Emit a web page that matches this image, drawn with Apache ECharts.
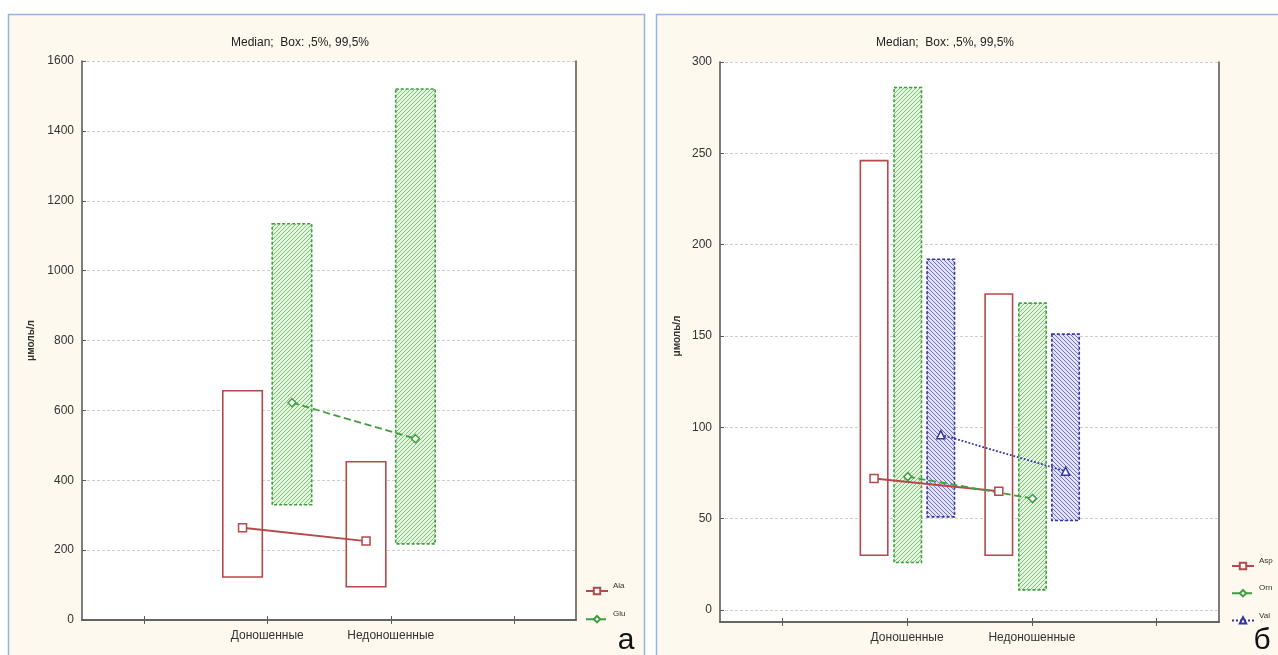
<!DOCTYPE html>
<html>
<head>
<meta charset="utf-8">
<script src="https://cdn.jsdelivr.net/npm/echarts@6/dist/echarts.min.js"></script>
<style>
  html, body { margin: 0; padding: 0; background: #ffffff; }
  #chart { width: 1278px; height: 655px; }
</style>
</head>
<body>
<div id="chart"></div>
<script>
// ---- data ----
const groups = ['Доношенные', 'Недоношенные'];
const axisSlots = ['', 'Доношенные', 'Недоношенные', ''];
const titleText = 'Median;  Box: ,5%, 99,5%';
const unitLabel = 'μмоль/л';

// panel а (0.5% / 99.5% box, median point)
const alaLow = [123, 95];
const alaHigh = [656, 453];
const alaMedian = [264, 226];
const gluLow = [330, 218];
const gluHigh = [1134, 1520];
const gluMedian = [622, 519];
const yTicksA = [0, 200, 400, 600, 800, 1000, 1200, 1400, 1600];

// panel б
const aspLow = [30, 30];
const aspHigh = [246, 173];
const aspMedian = [72, 65];
const ornLow = [26, 11];
const ornHigh = [286, 168];
const ornMedian = [73, 61];
const valLow = [51, 49];
const valHigh = [192, 151];
const valMedian = [96, 76];
const yTicksB = [0, 50, 100, 150, 200, 250, 300];

// ---- styles ----
const FONT = 'Liberation Sans, Arial, sans-serif';
const RED = '#b5484b';
const GREEN = '#3f9f3f';
const BLUE = '#3636a2';
const FRAME = '#5c5c5c';

function hatch(bg, fg, dir) {
  const c = document.createElement('canvas');
  c.width = 4; c.height = 4;
  const g = c.getContext('2d');
  g.fillStyle = bg; g.fillRect(0, 0, 4, 4);
  g.strokeStyle = fg; g.lineWidth = 0.9;
  g.beginPath();
  if (dir > 0) {
    g.moveTo(0, 4); g.lineTo(4, 0);
    g.moveTo(-1, 1); g.lineTo(1, -1);
    g.moveTo(3, 5); g.lineTo(5, 3);
  } else {
    g.moveTo(0, 0); g.lineTo(4, 4);
    g.moveTo(3, -1); g.lineTo(5, 1);
    g.moveTo(-1, 3); g.lineTo(1, 5);
  }
  g.stroke();
  return c;
}
const greenHatch = { image: hatch('#e6f4e2', '#6fbd66', 1), repeat: 'repeat' };
const blueHatch = { image: hatch('#e2e2f4', '#6464c0', -1), repeat: 'repeat' };

// ---- series builders ----
// x positions live on a hidden value axis spanning the 4 slots [0, 4];
// group i sits at the centre of slot i + 1.
function boxSeries(low, high, offset, width, style, xi, yi) {
  return {
    type: 'custom', xAxisIndex: xi, yAxisIndex: yi, z: 2, silent: true,
    data: groups.map((g, i) => [i + 1.5 + offset, low[i], high[i]]),
    encode: { x: 0, y: [1, 2] },
    renderItem: (params, api) => {
      const top = api.coord([api.value(0), api.value(2)]);
      const bot = api.coord([api.value(0), api.value(1)]);
      const w = api.size([width, 0])[0];
      return {
        type: 'rect',
        shape: { x: top[0] - w / 2, y: top[1], width: w, height: bot[1] - top[1] },
        style: style
      };
    }
  };
}

function medianSeries(name, med, offset, color, lineType, symbol, size, xi, yi) {
  return {
    type: 'line', name: name, xAxisIndex: xi, yAxisIndex: yi, z: 5, silent: true,
    data: groups.map((g, i) => [i + 1.5 + offset, med[i]]),
    symbol: symbol, symbolSize: size, showAllSymbol: true,
    lineStyle: { color: color, width: 1.8, type: lineType },
    itemStyle: { color: '#ffffff', borderColor: color, borderWidth: 1.5 },
    animation: false
  };
}

const redBox = { fill: '#ffffff', stroke: RED, lineWidth: 1.6 };
const greenBox = { fill: greenHatch, stroke: GREEN, lineWidth: 1.6, lineDash: [3, 2] };
const blueBox = { fill: blueHatch, stroke: BLUE, lineWidth: 1.6, lineDash: [3, 2] };

// ---- axes helpers ----
const frameLine = { show: true, lineStyle: { color: FRAME, width: 1.6 } };
const gridSplit = { show: true, lineStyle: { color: '#cfcfcf', width: 1, type: [3, 2] } };
const plainNumber = v => String(v);

function catAxis(gridIndex, position, labels) {
  return {
    type: 'category', gridIndex: gridIndex, position: position, data: axisSlots,
    boundaryGap: true,
    axisLine: frameLine,
    axisTick: { show: true, inside: true, alignWithLabel: true, length: 4, lineStyle: { color: FRAME } },
    axisLabel: labels ? { show: true, color: '#333', fontSize: 12, fontFamily: FONT, margin: 10, interval: 0 } : { show: false },
    splitLine: { show: false }
  };
}
function hiddenValueX(gridIndex) {
  return { type: 'value', gridIndex: gridIndex, min: 0, max: 4, show: false };
}
function lineOnlyY(gridIndex, position, min, max) {
  return {
    type: 'value', gridIndex: gridIndex, position: position, min: min, max: max,
    axisLine: frameLine, axisTick: { show: false }, axisLabel: { show: false }, splitLine: { show: false }
  };
}

// legend names sit a little above their line-and-marker keys
const legendText = {
  fontSize: 8, color: '#333', fontFamily: FONT,
  rich: { t: { fontSize: 8, color: '#333', fontFamily: FONT, padding: [0, 0, 10, 0] } }
};
const legendFormat = '{t|{name}}';

const option = {
  animation: false,
  backgroundColor: '#ffffff',
  textStyle: { fontFamily: FONT },
  graphic: [
    { type: 'rect', z: -10, shape: { x: 8.5, y: 14.5, width: 636, height: 660 },
      style: { fill: '#fdf9ee', stroke: '#95b5de', lineWidth: 1.5 } },
    { type: 'rect', z: -10, shape: { x: 656.5, y: 14.5, width: 640, height: 660 },
      style: { fill: '#fdf9ee', stroke: '#95b5de', lineWidth: 1.5 } },
    { type: 'text', z: 10, x: 626, y: 641,
      style: { text: 'а', font: '30px ' + FONT, fill: '#111', align: 'center', verticalAlign: 'middle' } },
    { type: 'text', z: 10, x: 1262, y: 641,
      style: { text: 'б', font: '30px ' + FONT, fill: '#111', align: 'center', verticalAlign: 'middle' } }
  ],
  title: [
    { text: titleText, left: 295, top: 32, textAlign: 'center',
      textStyle: { fontSize: 12, fontWeight: 'normal', color: '#222', fontFamily: FONT } },
    { text: titleText, left: 940, top: 32, textAlign: 'center',
      textStyle: { fontSize: 12, fontWeight: 'normal', color: '#222', fontFamily: FONT } }
  ],
  legend: [
    { data: ['Ala', 'Glu'], orient: 'vertical', left: 580, top: 577, itemWidth: 22, itemHeight: 8, itemGap: 15,
      formatter: legendFormat, textStyle: legendText, selectedMode: false },
    { data: ['Asp', 'Orn', 'Val'], orient: 'vertical', left: 1226, top: 552, itemWidth: 22, itemHeight: 8, itemGap: 14,
      formatter: legendFormat, textStyle: legendText, selectedMode: false }
  ],
  grid: [
    { left: 82, right: 702, top: 61, bottom: 35, show: true, backgroundColor: '#ffffff', borderWidth: 0 },
    { left: 720, right: 59, top: 62, bottom: 33, show: true, backgroundColor: '#ffffff', borderWidth: 0 },
    { left: 720, right: 59, top: 62, bottom: 45 }
  ],
  xAxis: [
    catAxis(0, 'bottom', true),   // 0
    catAxis(0, 'top', false),     // 1
    hiddenValueX(0),              // 2
    catAxis(1, 'bottom', true),   // 3
    catAxis(1, 'top', false),     // 4
    hiddenValueX(2)               // 5
  ],
  yAxis: [
    { // 0: panel а values
      type: 'value', gridIndex: 0, position: 'left',
      min: yTicksA[0], max: yTicksA[yTicksA.length - 1], interval: yTicksA[1] - yTicksA[0],
      axisLine: frameLine,
      axisTick: { show: true, inside: true, length: 4, lineStyle: { color: FRAME } },
      axisLabel: { color: '#333', fontSize: 12, fontFamily: FONT, margin: 8, formatter: plainNumber },
      splitLine: gridSplit,
      name: unitLabel, nameLocation: 'middle', nameGap: 46,
      nameTextStyle: { fontSize: 10, fontWeight: 'bold', color: '#333', fontFamily: FONT }
    },
    lineOnlyY(0, 'right', yTicksA[0], yTicksA[yTicksA.length - 1]),  // 1
    lineOnlyY(1, 'left', 0, 1),                                    // 2
    lineOnlyY(1, 'right', 0, 1),                                   // 3
    { // 4: panel б values
      type: 'value', gridIndex: 2, position: 'left',
      min: yTicksB[0], max: yTicksB[yTicksB.length - 1], interval: yTicksB[1] - yTicksB[0],
      axisLine: { show: false },
      axisTick: { show: true, inside: true, length: 4, lineStyle: { color: FRAME } },
      axisLabel: { color: '#333', fontSize: 12, fontFamily: FONT, margin: 8, formatter: plainNumber },
      splitLine: gridSplit,
      name: unitLabel, nameLocation: 'middle', nameGap: 38,
      nameTextStyle: { fontSize: 10, fontWeight: 'bold', color: '#333', fontFamily: FONT }
    }
  ],
  series: [
    // panel а
    boxSeries(alaLow, alaHigh, -0.2, 0.32, redBox, 2, 0),
    boxSeries(gluLow, gluHigh, 0.2, 0.32, greenBox, 2, 0),
    medianSeries('Ala', alaMedian, -0.2, RED, 'solid', 'rect', 8, 2, 0),
    medianSeries('Glu', gluMedian, 0.2, GREEN, 'dashed', 'diamond', 8, 2, 0),
    // panel б
    boxSeries(aspLow, aspHigh, -0.265, 0.22, redBox, 5, 4),
    boxSeries(ornLow, ornHigh, 0.005, 0.22, greenBox, 5, 4),
    boxSeries(valLow, valHigh, 0.27, 0.22, blueBox, 5, 4),
    medianSeries('Asp', aspMedian, -0.265, RED, 'solid', 'rect', 8, 5, 4),
    medianSeries('Orn', ornMedian, 0.005, GREEN, 'dashed', 'diamond', 8, 5, 4),
    medianSeries('Val', valMedian, 0.27, BLUE, 'dotted', 'triangle', 8, 5, 4)
  ]
};

const chart = echarts.init(document.getElementById('chart'), null, { renderer: 'canvas' });
chart.setOption(option);
</script>
</body>
</html>
